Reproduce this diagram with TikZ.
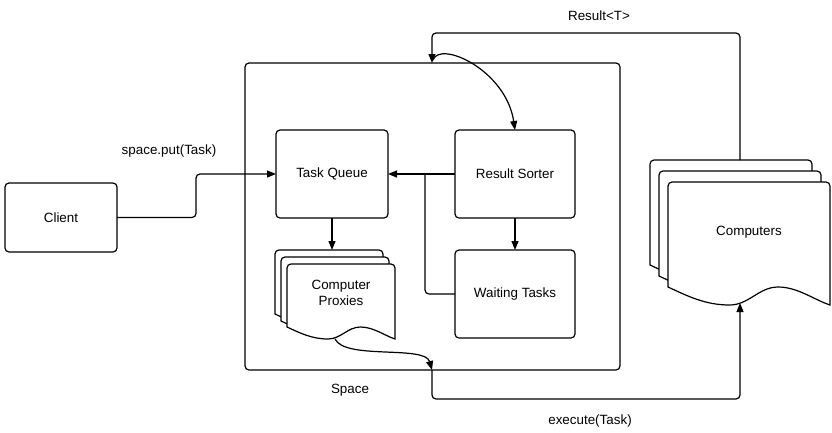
\documentclass[tikz,border=0pt]{standalone}
\usepackage{fontspec}
\setmainfont{Liberation Sans}
\usetikzlibrary{arrows.meta}
\newcommand\docshape[5]{%
  \draw[docline] (#1,#4) [rounded corners=4pt] -- (#1,#2) -- (#3,#2) [sharp corners] -- (#3,{#4+#5})
   .. controls ({#3-0.1*(#3-#1)},{#4+0.7*#5}) and ({#1+0.8*(#3-#1)},#4) .. ({#1+0.68*(#3-#1)},#4)
   .. controls ({#1+0.56*(#3-#1)},#4) and ({#1+0.5*(#3-#1)},{#4+#5}) .. ({#1+0.38*(#3-#1)},{#4+#5})
   .. controls ({#1+0.23*(#3-#1)},{#4+#5}) and ({#1+0.12*(#3-#1)},{#4+0.5*#5}) .. (#1,#4) -- cycle;}
\tikzset{
  docline/.style={draw=black, fill=white, line width=1.2pt},
  box/.style={draw=black, fill=white, line width=1.2pt, rounded corners=4pt, outer sep=0pt, inner sep=0pt},
  lbl/.style={font=\fontsize{13.4}{15.8}\selectfont, inner sep=1pt},
  conn/.style={line width=1.2pt, rounded corners=4pt},
  arr/.style={conn, -{Triangle[length=9pt,width=7pt]}},
}
\begin{document}
\begin{tikzpicture}[x=1pt,y=-1pt]
\useasboundingbox (0,0) rectangle (832,432);
% space container
\node[box, minimum width=375pt, minimum height=307pt] (space) at (432.5,216.5) {};
% main boxes
\node[box, minimum width=112pt, minimum height=69pt] (client) at (61,217.5) {};
\node[box, minimum width=112pt, minimum height=88pt] (tq) at (332,174) {};
\node[box, minimum width=120pt, minimum height=88pt] (rs) at (515,174) {};
\node[box, minimum width=120pt, minimum height=88pt] (wt) at (515,294) {};
\node[lbl] at (client) {Client};
\node[lbl] at (tq) {Task Queue};
\node[lbl] at (rs) {Result Sorter};
\node[lbl] at (wt) {Waiting Tasks};
% computer proxies stack
\docshape{275}{250}{383}{314}{12}
\docshape{281}{257}{389}{321}{12}
\docshape{287}{264}{395}{327}{12}
\node[lbl, align=center] (cp) at (341,293) {Computer\\Proxies};
% computers stack
\docshape{650}{160}{812}{265}{18}
\docshape{659}{171}{821}{276}{18}
\docshape{668}{182}{830}{287}{18}
\node[lbl] (comp) at (749,232) {Computers};
% coordinates
\coordinate (cptop) at (332,250);
\coordinate (cpdip) at (335,339);
\coordinate (spbot) at (432,370);
\coordinate (sptop) at (432,63);
\coordinate (comptop) at (740,160);
\coordinate (compbot) at (740,303);
% labels
\node[lbl] (lput) at (169,151) {space.put(Task)};
\node[lbl] (lres) at (599,16) {Result<T>};
\node[lbl] (lspace) at (350,390) {Space};
\node[lbl] (lexec) at (590,421) {execute(Task)};
% connectors
\draw[arr] (client.east) -- (196,217.5) -- (196,174) -- (tq.west);
\draw[arr] (rs.west) -- (tq.east);
\draw[conn] (wt.west) -- (425,294) -- (425,174);
\draw[arr] (tq.south) -- (cptop);
\draw[arr] (rs.south) -- (wt.north);
\draw[arr] (comptop) -- (740,33) -- (432,33) -- (sptop);
\draw[arr] (433,60) .. controls (440,40) and (506,70) .. (rs.north);
\draw[arr] (cpdip) .. controls (345,360) and (425,345) .. (spbot);
\draw[arr] (spbot) -- (432,399) -- (740,399) -- (compbot);
\end{tikzpicture}
\end{document}
